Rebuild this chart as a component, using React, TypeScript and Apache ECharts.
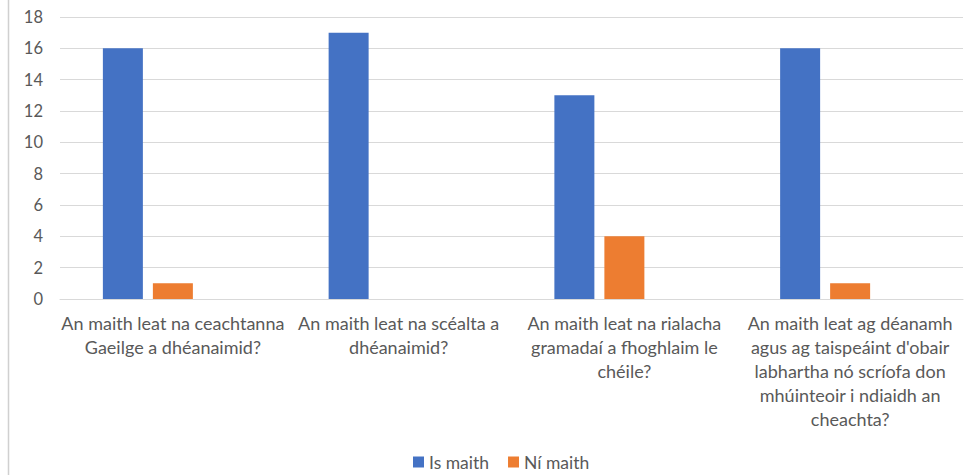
import React, { useEffect, useRef } from "react";
import * as echarts from "echarts";

const categories = [
  "An maith leat na ceachtanna\nGaeilge a dhéanaimid?",
  "An maith leat na scéalta a\ndhéanaimid?",
  "An maith leat na rialacha\ngramadaí a fhoghlaim le\nchéile?",
  "An maith leat ag déanamh\nagus ag taispeáint d'obair\nlabhartha nó scríofa don\nmhúinteoir i ndiaidh an\ncheachta?",
];
const seriesNames = ["Is maith", "Ní maith"];
const isMaith = [16, 17, 13, 16];
const niMaith = [1, null, 4, 1];
const emptySeries = [null, null, null, null];
const yTicks = { min: 0, max: 18, interval: 2 };

const FONT = "Lato, 'Open Sans', sans-serif";

export default function App() {
  const ref = useRef<HTMLDivElement>(null);
  useEffect(() => {
    if (!ref.current) return;
    const chart = echarts.init(ref.current, null, { renderer: "svg" });
    chart.setOption({
      animation: false,
      textStyle: { fontFamily: FONT },
      graphic: [
        {
          type: "line",
          shape: { x1: 8.5, y1: 0, x2: 8.5, y2: 475 },
          style: { stroke: "#d0d0d0", lineWidth: 1.5 },
        },
      ],
      grid: { left: 60, right: 14, top: 17, bottom: 176, containLabel: false },
      legend: {
        data: seriesNames,
        top: 448,
        left: 408,
        icon: "rect",
        itemWidth: 11,
        itemHeight: 11,
        itemGap: 19,
        textStyle: { color: "#595959", fontSize: 17.5, fontFamily: FONT },
      },
      xAxis: {
        type: "category",
        data: categories,
        axisLine: { lineStyle: { color: "#d9d9d9" } },
        axisTick: { show: false },
        axisLabel: {
          interval: 0,
          color: "#595959",
          fontSize: 18,
          lineHeight: 24,
          margin: 12,
          fontFamily: FONT,
        },
      },
      yAxis: {
        type: "value",
        min: yTicks.min,
        max: yTicks.max,
        interval: yTicks.interval,
        axisLine: { show: false },
        axisTick: { show: false },
        splitLine: { lineStyle: { color: "#d9d9d9", width: 1 } },
        axisLabel: { color: "#595959", fontSize: 16.5, margin: 17, fontFamily: FONT },
      },
      series: [
        {
          name: seriesNames[0],
          type: "bar",
          data: isMaith,
          barWidth: 40,
          barGap: "25%",
          itemStyle: { color: "#4472C4" },
        },
        {
          name: seriesNames[1],
          type: "bar",
          data: niMaith,
          barWidth: 40,
          barGap: "25%",
          itemStyle: { color: "#ED7D31" },
        },
        {
          name: "",
          type: "bar",
          data: emptySeries,
          barWidth: 40,
          barGap: "25%",
          itemStyle: { color: "#A5A5A5" },
        },
      ],
    });
    return () => chart.dispose();
  }, []);
  return <div ref={ref} style={{ width: 977, height: 475, position: "absolute", left: 0, top: 0 }} />;
}
